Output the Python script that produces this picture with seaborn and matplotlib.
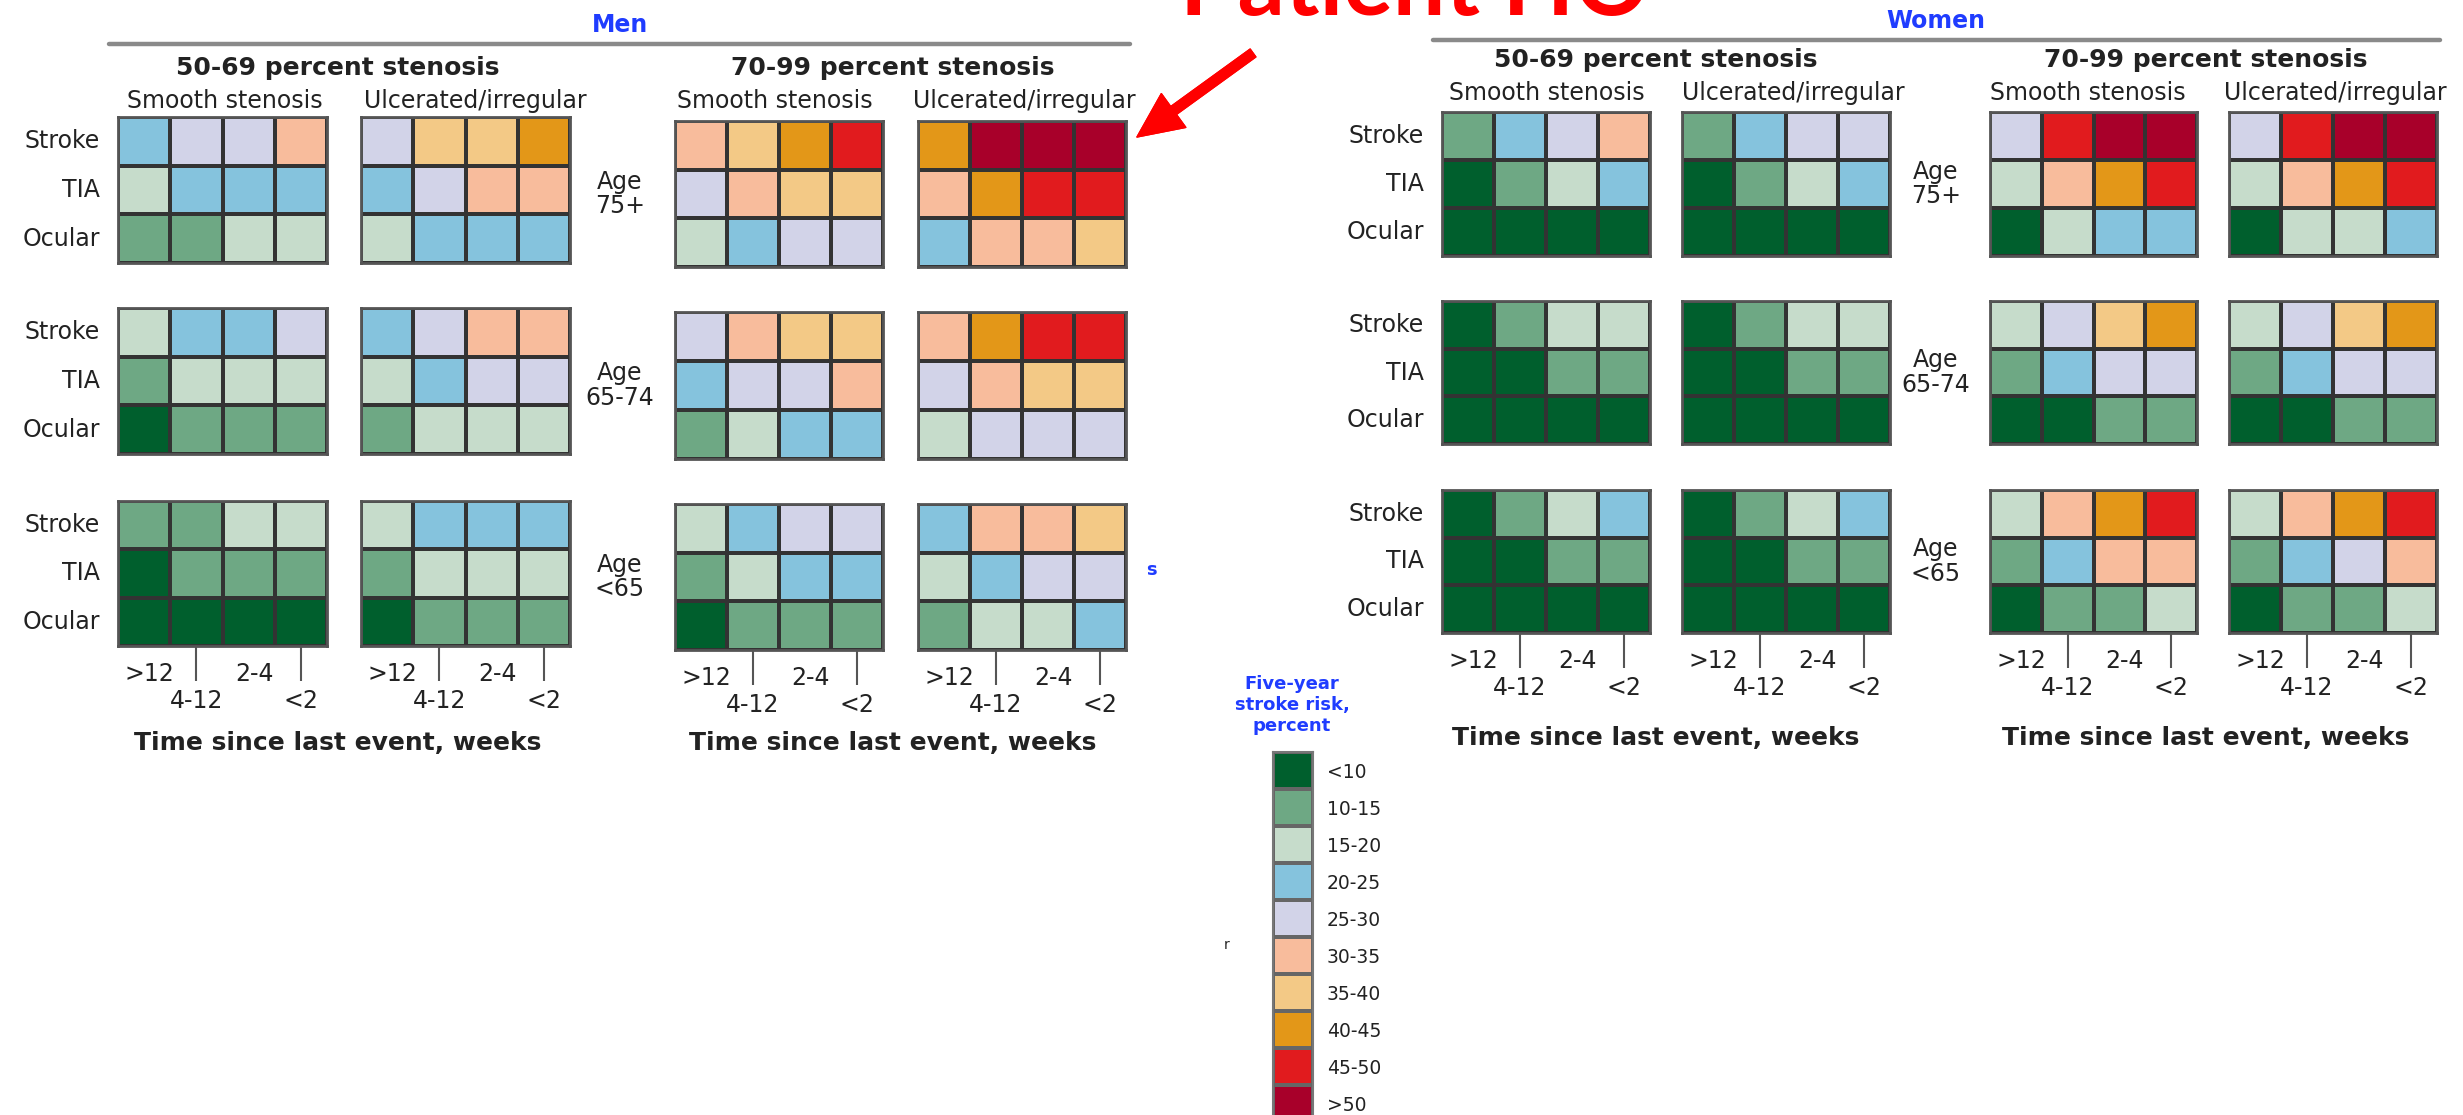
import matplotlib
matplotlib.use('Agg')
import matplotlib.pyplot as plt
from matplotlib.colors import ListedColormap
from matplotlib.lines import Line2D
import seaborn as sns
import numpy as np

# --- data: risk category index (0 = <10 ... 9 = >50) per cell
# rows: Stroke, TIA, Ocular; columns: >12, 4-12, 2-4, <2 weeks
# each age list holds 4 panels: 50-69 smooth, 50-69 ulcerated, 70-99 smooth, 70-99 ulcerated
ROW_LABELS = ["Stroke", "TIA", "Ocular"]
TIME_UPPER = [">12", "2-4"]
TIME_LOWER = ["4-12", "<2"]
AGE_LABELS = ["Age\n75+", "Age\n65-74", "Age\n<65"]
STENOSIS = ["50-69 percent stenosis", "70-99 percent stenosis"]
SURFACE = ["Smooth stenosis", "Ulcerated/irregular"]
RISK_LABELS = ["<10", "10-15", "15-20", "20-25", "25-30",
               "30-35", "35-40", "40-45", "45-50", ">50"]
RISK_COLORS = ["#005F2D", "#6EA884", "#C6DCCB", "#85C3DD", "#D2D3E8",
               "#F8BC9C", "#F3C986", "#E39718", "#E11B1E", "#A8002A"]

men_75 = [
    [[3, 4, 4, 5], [2, 3, 3, 3], [1, 1, 2, 2]],
    [[4, 6, 6, 7], [3, 4, 5, 5], [2, 3, 3, 3]],
    [[5, 6, 7, 8], [4, 5, 6, 6], [2, 3, 4, 4]],
    [[7, 9, 9, 9], [5, 7, 8, 8], [3, 5, 5, 6]],
]
men_65_74 = [
    [[2, 3, 3, 4], [1, 2, 2, 2], [0, 1, 1, 1]],
    [[3, 4, 5, 5], [2, 3, 4, 4], [1, 2, 2, 2]],
    [[4, 5, 6, 6], [3, 4, 4, 5], [1, 2, 3, 3]],
    [[5, 7, 8, 8], [4, 5, 6, 6], [2, 4, 4, 4]],
]
men_u65 = [
    [[1, 1, 2, 2], [0, 1, 1, 1], [0, 0, 0, 0]],
    [[2, 3, 3, 3], [1, 2, 2, 2], [0, 1, 1, 1]],
    [[2, 3, 4, 4], [1, 2, 3, 3], [0, 1, 1, 1]],
    [[3, 5, 5, 6], [2, 3, 4, 4], [1, 2, 2, 3]],
]
women_75 = [
    [[1, 3, 4, 5], [0, 1, 2, 3], [0, 0, 0, 0]],
    [[1, 3, 4, 4], [0, 1, 2, 3], [0, 0, 0, 0]],
    [[4, 8, 9, 9], [2, 5, 7, 8], [0, 2, 3, 3]],
    [[4, 8, 9, 9], [2, 5, 7, 8], [0, 2, 2, 3]],
]
women_65_74 = [
    [[0, 1, 2, 2], [0, 0, 1, 1], [0, 0, 0, 0]],
    [[0, 1, 2, 2], [0, 0, 1, 1], [0, 0, 0, 0]],
    [[2, 4, 6, 7], [1, 3, 4, 4], [0, 0, 1, 1]],
    [[2, 4, 6, 7], [1, 3, 4, 4], [0, 0, 1, 1]],
]
women_u65 = [
    [[0, 1, 2, 3], [0, 0, 1, 1], [0, 0, 0, 0]],
    [[0, 1, 2, 3], [0, 0, 1, 1], [0, 0, 0, 0]],
    [[2, 5, 7, 8], [1, 3, 5, 5], [0, 1, 1, 2]],
    [[2, 5, 7, 8], [1, 3, 4, 5], [0, 1, 1, 2]],
]

W, H = 2463, 1115
BLUE = "#1f3cff"
TXT = "#222222"

sns.set_theme(style="white")
plt.rcParams['font.family'] = ['DejaVu Sans']
risk_cmap = ListedColormap(RISK_COLORS)

fig = plt.figure(figsize=(W / 100, H / 100), dpi=100)


def fx(x):
    return x / W


def fy(y):
    return 1 - y / H


def add_ax(x0, x1, y0, y1):
    return fig.add_axes([fx(x0), fy(y1), (x1 - x0) / W, (y1 - y0) / H])


def draw_panel(ax, grid, show_rows, show_time):
    sns.heatmap(np.array(grid), ax=ax, cmap=risk_cmap, vmin=-0.5, vmax=9.5,
                cbar=False, linewidths=1.6, linecolor="#333333",
                xticklabels=False, yticklabels=ROW_LABELS if show_rows else False)
    for s in ax.spines.values():
        s.set_visible(True)
        s.set_color("#555555")
        s.set_linewidth(2)
    ax.tick_params(axis="y", length=0, pad=13, labelsize=17, labelcolor=TXT)
    if show_rows:
        plt.setp(ax.get_yticklabels(), rotation=0)
    if show_time:
        ax.set_xticks([1.5, 3.5])
        ax.set_xticklabels(TIME_LOWER, fontsize=17, color=TXT)
        ax.tick_params(axis="x", bottom=True, length=25, width=1.5,
                       color="#555555", pad=6)
        for xi, lab in zip([0.5, 2.5], TIME_UPPER):
            ax.annotate(lab, xy=(xi, 0), xycoords=("data", "axes fraction"),
                        xytext=(4, -20), textcoords="offset points",
                        ha="center", va="center", fontsize=17, color=TXT)


def draw_sex(ages, xs, ys_left, ys_right, title, title_xy, line, heads, subs,
             age_x, time_y):
    for r, panels in enumerate(ages):
        for p, grid in enumerate(panels):
            y0, y1 = (ys_left if p < 2 else ys_right)[r]
            ax = add_ax(xs[p][0], xs[p][1], y0, y1)
            draw_panel(ax, grid, show_rows=(p == 0), show_time=(r == 2))
        y0, y1 = ys_right[r]
        fig.text(fx(age_x), fy((y0 + y1) / 2), AGE_LABELS[r], ha="center",
                 va="center", fontsize=17, color=TXT, linespacing=1.05)
    fig.text(fx(title_xy[0]), fy(title_xy[1]), title, ha="center", va="center",
             fontsize=17, fontweight="bold", color=BLUE)
    fig.add_artist(Line2D([fx(line[0]), fx(line[1])], [fy(line[2])] * 2,
                          transform=fig.transFigure, color="#8a8a8a", lw=3.2))
    for (hx, hy), lab in zip(heads, STENOSIS):
        fig.text(fx(hx), fy(hy), lab, ha="center", va="center", fontsize=18,
                 fontweight="bold", color=TXT)
    for i, (sx, sy) in enumerate(subs):
        fig.text(fx(sx), fy(sy), SURFACE[i % 2], ha="center", va="center",
                 fontsize=17, color=TXT)
    for tx in [heads[0][0], heads[1][0]]:
        fig.text(fx(tx), fy(time_y), "Time since last event, weeks",
                 ha="center", va="center", fontsize=18, fontweight="bold",
                 color=TXT)


# Men
draw_sex([men_75, men_65_74, men_u65],
         xs=[(118, 327), (361, 570), (675, 883), (918, 1126)],
         ys_left=[(117, 263), (308, 454), (501, 646)],
         ys_right=[(121, 267), (312, 459), (504, 650)],
         title="Men", title_xy=(620, 25), line=(109, 1130, 44),
         heads=[(338, 68), (893, 68)],
         subs=[(225, 101), (475, 101), (775, 101), (1024, 101)],
         age_x=620, time_y=743)

# Women
draw_sex([women_75, women_65_74, women_u65],
         xs=[(1442, 1650), (1682, 1890), (1990, 2197), (2229, 2437)],
         ys_left=[(112, 256), (301, 444), (490, 633)],
         ys_right=[(112, 256), (301, 444), (490, 633)],
         title="Women", title_xy=(1936, 21), line=(1433, 2440, 40),
         heads=[(1656, 60), (2206, 60)],
         subs=[(1547, 93), (1793, 93), (2088, 93), (2335, 93)],
         age_x=1936, time_y=738)

# Legend
lax = add_ax(1273, 1313, 752, 1122)
sns.heatmap(np.arange(len(RISK_LABELS)).reshape(-1, 1), ax=lax, cmap=risk_cmap,
            vmin=-0.5, vmax=9.5, cbar=False, linewidths=1.5, linecolor="#666666",
            xticklabels=False, yticklabels=RISK_LABELS)
lax.yaxis.tick_right()
lax.set_yticklabels(RISK_LABELS, rotation=0, fontsize=13.5, color=TXT)
lax.tick_params(axis="y", length=0, pad=10)
for s in lax.spines.values():
    s.set_visible(True)
    s.set_color("#777777")
    s.set_linewidth(1.5)
fig.text(fx(1292), fy(705), "Five-year\nstroke risk,\npercent", ha="center",
         va="center", fontsize=13, fontweight="bold", color=BLUE, linespacing=1.2)

# stray fragments visible in the source image
fig.text(fx(1151), fy(570), "s", ha="center", va="center", fontsize=13,
         fontweight="bold", color=BLUE)
fig.text(fx(1227), fy(945), "r", ha="center", va="center", fontsize=10,
         color=TXT)

# annotation
fig.text(fx(1415), fy(15), "Patient HO", ha="center", va="baseline",
         fontsize=67, fontweight="bold", color="#ff0000", family=["Lato", "DejaVu Sans"])
fig.add_artist(plt.annotate(
    "", xy=(1137, H - 137), xytext=(1253, H - 53), xycoords="figure pixels",
    textcoords="figure pixels",
    arrowprops=dict(arrowstyle="simple,head_length=0.65,head_width=0.6,tail_width=0.14",
                    color="#ff0000", mutation_scale=50, shrinkA=0, shrinkB=0)))

fig.savefig("out.png", dpi=100)
